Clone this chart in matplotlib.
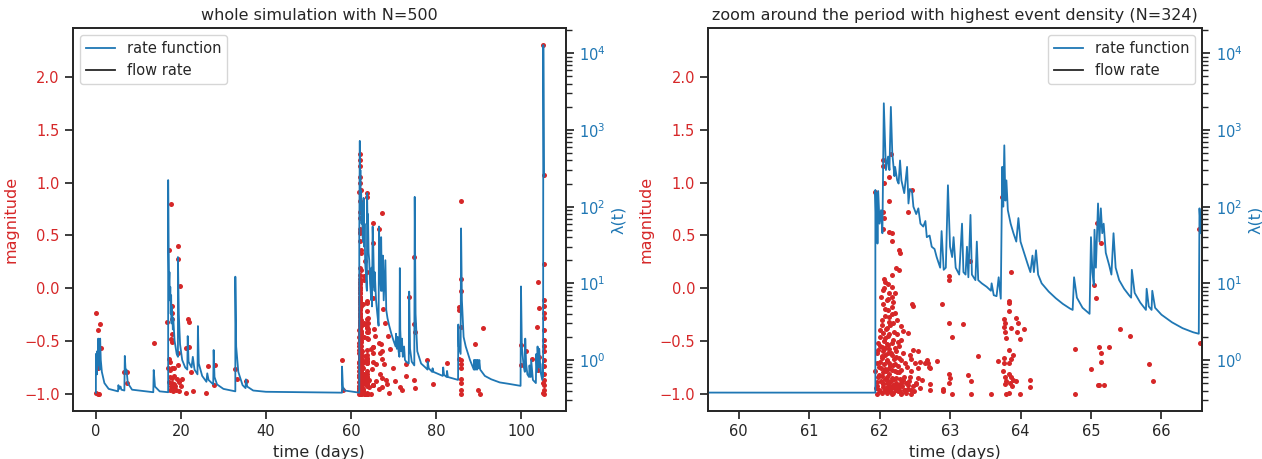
import numpy as np
import matplotlib
matplotlib.use("Agg")
import matplotlib.pyplot as plt

RED = "#d62728"
BLUE = "#1f77b4"
INK = "#262626"

# events as (time in days, magnitude)
early_events = [
    (0.0, -0.24), (0.45, -0.40), (0.95, -0.34), (0.0, -0.99), (0.6, -1.0), (0.8, -1.0),
    (0.5, -0.76), (1.1, -0.57), (6.7, -0.80), (7.2, -0.80), (7.2, -0.90), (13.7, -0.52),
    (17.2, 0.36), (17.6, 0.80), (19.3, 0.40), (19.3, 0.28), (19.7, 0.02), (17.8, -0.17),
    (17.8, -0.24), (18.0, -0.29), (17.7, -0.48), (18.0, -0.51), (17.9, -0.44), (17.1, -0.67),
    (17.4, -0.70), (17.0, -0.76), (17.4, -0.78), (17.8, -0.76), (18.3, -0.76), (19.2, -0.62),
    (19.4, -0.73), (17.5, -0.84), (18.0, -0.85), (18.4, -0.83), (17.3, -0.89), (17.8, -0.90),
    (18.4, -0.91), (17.7, -0.93), (18.1, -0.94), (18.6, -0.93), (17.5, -0.97), (18.2, -0.98),
    (18.8, -0.97), (19.0, -0.86), (19.6, -0.89), (20.0, -0.93), (20.2, -0.86), (19.5, -0.98),
    (16.8, -0.32), (21.2, -0.57), (21.8, -0.56), (21.6, -0.29), (21.8, -0.32), (21.2, -0.99),
    (22.8, -0.98), (22.3, -0.80), (25.8, -0.99), (26.3, -0.74), (28.0, -0.73), (27.8, -0.92),
    (32.8, -0.77), (33.2, -0.86), (35.3, -0.88), (58.0, -0.68), (58.1, -0.97),
]

burst_events = [
    (61.94, 0.91), (62.05, 1.21), (62.05, 1.16), (62.16, 1.27), (62.14, 1.05), (62.06, 1.00),
    (62.14, 0.83), (62.05, 0.72), (62.06, 0.66), (62.05, 0.56), (62.14, 0.53), (62.17, 0.52),
    (62.17, 0.45), (62.28, 0.36), (62.29, 0.33), (62.24, 0.19), (62.28, 0.17), (62.06, 0.09),
    (62.08, 0.06), (62.17, 0.12), (62.46, 0.93), (62.41, 0.72),
    (62.46, -0.15), (62.47, -0.17), (62.12, 0.04), (62.17, 0.01), (62.05, -0.02), (62.13, -0.05),
    (62.17, -0.08), (62.10, -0.11), (62.05, -0.15), (62.19, -0.13), (62.17, -0.18), (62.12, -0.21),
    (62.08, -0.26), (62.14, -0.27), (62.22, -0.24), (62.13, -0.32), (62.19, -0.33), (62.03, -0.35),
    (62.31, -0.36), (62.33, -0.41), (62.41, -0.43), (62.10, -0.38), (62.05, -0.43), (62.14, -0.44),
    (62.25, -0.44), (62.00, -0.46), (62.08, -0.47), (62.19, -0.49), (62.26, -0.51), (62.31, -0.49),
    (61.98, -0.52), (62.12, -0.54), (62.03, -0.56), (62.08, -0.57), (62.22, -0.57), (62.28, -0.55),
    (62.48, -0.59), (62.43, -0.63), (62.45, -0.67), (62.55, -0.60), (62.67, -0.68), (62.69, -0.71),
    (62.81, -0.69), (61.98, -0.59), (62.05, -0.60), (62.12, -0.62), (62.17, -0.63), (62.24, -0.65),
    (62.31, -0.68), (62.33, -0.62), (62.03, -0.66), (62.10, -0.68), (61.96, -0.71), (62.14, -0.71),
    (62.19, -0.73), (62.26, -0.74), (62.36, -0.71), (62.50, -0.71), (62.55, -0.76), (62.72, -0.76),
    (61.99, -0.75), (62.08, -0.77), (62.12, -0.77), (61.94, -0.79), (62.05, -0.80), (62.22, -0.79),
    (62.28, -0.80), (62.45, -0.79), (62.43, -0.84), (61.98, -0.84), (62.10, -0.84), (62.17, -0.85),
    (62.24, -0.85), (62.33, -0.87), (62.55, -0.85), (62.60, -0.87), (61.96, -0.89), (62.03, -0.89),
    (62.10, -0.90), (62.14, -0.90), (62.19, -0.92), (62.26, -0.92), (62.31, -0.90), (62.38, -0.90),
    (62.41, -0.92), (62.05, -0.94), (62.12, -0.94), (62.22, -0.94), (61.99, -0.97), (62.08, -0.97),
    (62.15, -0.97), (62.24, -0.97), (62.28, -0.97), (62.36, -0.97), (62.45, -0.97), (62.57, -0.95),
    (61.96, -1.00), (62.17, -1.00), (62.31, -1.00), (62.72, -0.97), (62.90, -0.96), (62.58, -0.70),
    (62.65, -0.71), (62.70, -0.75), (62.52, -0.91), (62.72, -0.91), (61.95, -0.95),
    (61.96, -0.62), (61.97, -0.93), (61.99, -0.82), (62.00, -0.70), (62.00, -0.98), (62.01, -0.55),
    (62.02, -0.88), (62.02, -0.76), (62.03, -0.99), (62.04, -0.64), (62.04, -0.83), (62.05, -0.91),
    (62.06, -0.50), (62.06, -0.72), (62.07, -0.97), (62.07, -0.86), (62.08, -0.63), (62.09, -0.79),
    (62.09, -0.95), (62.10, -0.53), (62.10, -0.99), (62.11, -0.87), (62.11, -0.69), (62.12, -0.45),
    (62.13, -0.93), (62.13, -0.81), (62.14, -0.58), (62.15, -0.98), (62.15, -0.74), (62.16, -0.88),
    (62.16, -0.62), (62.17, -0.95), (62.18, -0.78), (62.18, -0.52), (62.19, -0.99), (62.20, -0.86),
    (62.20, -0.67), (62.21, -0.93), (62.22, -0.72), (62.23, -0.97), (62.23, -0.60), (62.24, -0.90),
    (62.25, -0.80), (62.26, -0.98), (62.27, -0.66), (62.28, -0.94), (62.29, -0.86), (62.30, -0.99),
    (62.31, -0.78), (62.32, -0.93), (62.34, -0.97), (62.35, -0.84), (62.37, -0.99), (62.39, -0.75),
    (62.40, -0.96), (62.42, -0.88), (62.44, -1.00), (62.47, -0.93), (62.49, -0.98), (62.52, -0.90),
    (62.01, -0.40), (62.04, -0.30), (62.07, -0.20), (62.09, -0.39), (62.12, -0.10), (62.15, -0.35),
    (62.18, -0.25), (62.20, -0.42), (62.22, -0.05), (62.25, -0.30), (62.02, -0.08), (62.06, 0.00),
]

zoom_events = [
    (62.88, -0.15), (62.98, 0.11), (62.98, 0.08), (62.98, -0.33), (63.18, -0.34), (63.03, -0.46),
    (63.39, -0.64), (62.98, -0.81), (63.00, -0.85), (62.98, -0.90), (62.90, -0.98), (63.03, -1.00),
    (63.25, -0.82), (63.30, -0.88), (63.30, -1.00), (63.58, -1.00), (63.86, 0.15), (63.83, -0.12),
    (63.84, -0.14), (63.84, -0.22), (63.76, -0.29), (63.78, -0.33), (63.77, -0.37), (63.86, -0.38),
    (63.94, -0.28), (63.97, -0.33), (64.05, -0.39), (63.78, -0.42), (63.79, -0.47), (63.95, -0.42),
    (63.99, -0.48), (63.83, -0.59), (63.89, -0.63), (63.87, -0.67), (63.68, -0.69), (63.77, -0.66),
    (63.77, -0.71), (63.84, -0.71), (63.75, -0.79), (63.78, -0.84), (63.83, -0.81), (63.87, -0.84),
    (63.80, -0.88), (63.85, -0.90), (63.78, -0.91), (63.90, -0.87), (63.94, -0.88), (63.88, -0.93),
    (63.80, -1.00), (63.83, -0.99), (63.99, -1.00), (64.14, -0.87), (64.13, -0.94), (63.74, 0.86),
    (63.77, 0.90), (63.29, 0.26), (65.04, 0.03), (65.07, -0.09), (65.08, 0.62), (65.14, 0.43),
    (65.41, -0.39), (65.56, -0.45), (64.78, -0.58), (65.12, -0.56), (65.25, -0.56), (65.14, -0.62),
    (65.14, -0.70), (65.00, -0.77), (65.82, -0.72), (65.88, -0.88), (65.10, -0.92), (65.12, -0.92),
    (65.18, -0.92), (64.78, -1.00), (66.55, -0.52), (66.54, 0.56),
]

late_events = [
    (67.2, 0.71), (67.0, -0.53), (67.3, -0.60), (66.8, -0.62), (67.4, -0.67), (67.8, -0.72),
    (66.9, -0.81), (67.3, -0.85), (68.2, -0.87), (67.4, -0.94), (68.4, -0.91), (66.7, -0.96),
    (67.6, -0.20), (68.0, -0.33), (68.6, -0.45), (69.2, -0.58), (69.8, -0.76), (70.3, -0.88),
    (69.0, -0.99), (71.0, -0.48), (71.4, -0.53), (71.6, -0.94), (72.0, -0.97), (72.9, -0.72),
    (73.0, -0.83), (73.7, -0.08), (74.9, 0.29), (74.9, -0.34), (75.0, -0.42), (74.9, -0.87),
    (75.1, -0.95), (78.0, -0.68), (79.2, -0.91), (82.6, -0.71), (85.9, 0.83), (85.9, 0.09),
    (85.9, -0.03), (85.9, -0.37), (86.0, -0.68), (86.0, -0.72), (86.0, -0.76), (85.9, -0.86),
    (86.0, -0.90), (85.9, -0.97), (85.9, -1.00), (85.3, -0.18), (85.3, -0.21), (85.3, -0.67),
    (89.2, -0.53), (91.0, -0.38), (89.8, -0.97), (90.4, -1.00), (100.0, -0.54), (100.0, -0.73),
    (101.2, -0.60), (102.6, -0.67), (103.8, -0.37), (104.0, 0.06), (104.2, -0.19), (104.3, -0.65),
    (104.0, -0.78), (105.2, 2.30), (105.3, 1.07), (105.3, 0.23), (105.3, -0.11), (105.3, -0.17),
    (105.3, -0.24), (105.3, -0.28), (105.3, -0.40), (105.3, -0.49), (105.3, -0.55), (105.3, -0.60),
    (105.3, -0.68), (105.3, -0.74), (105.3, -0.81), (105.3, -0.87), (105.3, -0.92), (105.3, -0.97),
    (105.3, -1.00), (105.1, -0.90), (105.2, -0.99),
]

# rate function lambda(t): whole run on a coarse grid, zoom window on a fine grid
rate_whole = [
    (0.0, 0.375), (0.0, 1.2), (0.1, 0.8), (0.25, 0.65), (0.3, 1.3), (0.45, 0.85), (0.55, 1.9),
    (0.7, 1.0), (0.9, 0.75), (1.0, 1.9), (1.15, 1.0), (1.4, 0.7), (2.0, 0.5), (3.0, 0.42),
    (5.2, 0.39), (5.3, 0.47), (5.5, 0.42), (5.8, 0.45), (6.0, 0.41), (6.7, 0.40), (6.8, 1.13),
    (7.0, 0.7), (7.2, 0.75), (7.5, 0.5), (8.5, 0.41), (13.5, 0.38), (13.6, 0.74), (13.9, 0.45),
    (15.0, 0.39), (17.0, 0.38), (17.0, 222), (17.1, 30), (17.2, 10), (17.3, 14), (17.4, 6),
    (17.5, 9), (17.6, 4), (17.7, 7), (17.8, 3), (17.9, 5), (18.1, 2.5), (18.2, 3.5), (18.5, 1.8),
    (19.0, 1.2), (19.3, 1.1), (19.3, 22), (19.5, 4), (19.8, 1.6), (20.3, 1.0), (21.0, 0.8),
    (21.5, 0.75), (21.6, 2.05), (21.8, 0.95), (22.5, 0.8), (22.8, 1.1), (23.2, 0.75), (23.9, 0.65),
    (24.0, 2.77), (24.2, 0.9), (25.0, 0.62), (26.0, 0.52), (26.2, 0.67), (26.5, 0.55), (27.6, 0.48),
    (27.7, 1.35), (27.9, 0.6), (28.5, 0.48), (30.0, 0.42), (32.8, 0.39), (32.8, 12.2), (33.0, 1.5),
    (33.5, 0.7), (34.5, 0.47), (35.2, 0.43), (35.3, 0.56), (35.6, 0.45), (37.0, 0.40), (40.0, 0.385),
    (57.9, 0.375), (57.9, 0.82), (58.1, 0.45), (58.5, 0.40), (61.95, 0.375), (61.96, 40),
    (62.0, 120), (62.08, 720), (62.15, 150), (62.22, 300), (62.3, 90), (62.4, 160), (62.5, 60),
    (62.62, 110), (62.75, 40), (62.9, 35), (62.98, 130), (63.1, 30), (63.2, 60), (63.35, 18),
    (63.5, 14), (63.65, 9), (63.75, 8), (63.8, 150), (63.9, 60), (64.0, 80), (64.15, 25),
    (64.3, 20), (64.5, 10), (64.8, 6), (64.85, 16), (64.95, 5), (65.1, 55), (65.25, 30),
    (65.4, 12), (65.55, 8), (65.6, 14), (65.9, 6), (66.2, 4), (66.5, 2.8), (66.6, 55), (66.8, 15),
    (67.05, 8), (67.1, 40), (67.3, 8), (67.5, 23), (67.7, 6), (68.1, 20), (68.3, 4.5), (68.6, 3.5),
    (69.0, 2.8), (69.5, 2.2), (70.0, 1.8), (70.5, 1.5), (70.6, 2.2), (70.8, 1.4), (71.0, 2.0),
    (71.2, 1.3), (71.4, 1.1), (71.5, 15.8), (71.6, 2.5), (71.8, 1.3), (72.0, 1.9), (72.2, 1.1),
    (72.5, 1.5), (72.7, 1.0), (73.0, 0.95), (73.6, 0.9), (73.7, 7.8), (73.9, 1.4), (74.3, 0.95),
    (74.9, 0.85), (75.0, 134), (75.2, 4), (75.6, 1.3), (76.5, 0.9), (77.5, 0.8), (78.0, 0.75),
    (78.05, 0.95), (78.3, 0.78), (79.1, 0.7), (79.2, 0.78), (79.4, 0.7), (81.6, 0.62), (81.7, 0.8),
    (81.9, 0.64), (82.5, 0.6), (82.6, 0.72), (82.8, 0.6), (85.2, 0.55), (85.25, 2.9), (85.35, 1.5),
    (85.8, 1.2), (85.9, 52), (86.1, 6), (86.5, 2.0), (87.0, 1.5), (88.0, 1.0), (88.9, 0.75),
    (88.95, 1.0), (89.1, 0.75), (89.25, 1.0), (89.4, 0.75), (89.55, 1.0), (89.7, 0.75),
    (89.85, 1.0), (90.0, 0.78), (90.2, 1.0), (90.4, 0.75), (91.5, 0.62), (93.0, 0.56),
    (95.0, 0.51), (97.0, 0.49), (99.9, 0.46), (100.0, 9.1), (100.2, 1.5), (100.6, 0.85),
    (100.9, 0.7), (101.0, 1.9), (101.2, 0.9), (101.5, 0.65), (101.9, 0.6), (102.0, 0.85),
    (102.3, 0.6), (102.4, 1.0), (102.8, 0.55), (103.5, 0.5), (103.6, 1.2), (103.8, 0.7),
    (103.9, 1.5), (104.1, 0.8), (104.3, 1.4), (104.6, 0.7), (105.0, 0.55), (105.1, 0.9),
    (105.2, 0.6), (105.25, 12800), (105.4, 250),
]

rate_zoom = [
    (59.0, 0.376), (61.94, 0.375), (61.94, 165), (61.95, 70), (61.96, 150), (61.97, 33),
    (61.98, 160), (62.00, 60), (62.02, 90), (62.04, 45), (62.06, 2230), (62.09, 300), (62.12, 450),
    (62.14, 300), (62.16, 2000), (62.18, 500), (62.21, 250), (62.22, 330), (62.25, 220),
    (62.27, 200), (62.29, 400), (62.31, 220), (62.35, 150), (62.39, 330), (62.41, 110),
    (62.43, 170), (62.46, 160), (62.48, 100), (62.52, 80), (62.55, 95), (62.58, 60), (62.62, 55),
    (62.65, 65), (62.67, 40), (62.71, 42), (62.74, 30), (62.78, 28), (62.81, 22), (62.86, 16),
    (62.88, 48), (62.91, 15), (62.94, 16), (62.97, 190), (63.00, 30), (63.03, 22), (63.05, 40),
    (63.08, 16), (63.13, 13), (63.17, 60), (63.19, 14), (63.22, 13), (63.24, 30), (63.26, 12),
    (63.29, 78), (63.31, 13), (63.36, 11), (63.38, 35), (63.40, 11), (63.45, 10), (63.52, 9),
    (63.58, 8), (63.59, 10), (63.62, 7), (63.66, 6.8), (63.69, 12), (63.72, 6.3), (63.74, 330),
    (63.755, 100), (63.77, 630), (63.785, 120), (63.80, 220), (63.82, 90), (63.86, 60),
    (63.90, 45), (63.94, 35), (63.97, 71), (64.00, 35), (64.05, 25), (64.10, 18), (64.14, 14),
    (64.17, 23), (64.19, 14), (64.22, 27), (64.25, 13), (64.30, 10), (64.40, 7.8), (64.50, 6.4),
    (64.60, 5.4), (64.70, 4.7), (64.74, 4.5), (64.76, 12), (64.80, 6.5), (64.88, 4.8),
    (64.98, 4.0), (65.00, 40), (65.02, 14), (65.04, 9.5), (65.05, 50), (65.07, 16), (65.10, 110),
    (65.12, 35), (65.14, 95), (65.16, 45), (65.18, 60), (65.21, 25), (65.26, 17), (65.29, 13),
    (65.32, 45), (65.35, 16), (65.40, 11), (65.47, 8.5), (65.54, 7.0), (65.57, 6.5), (65.58, 15),
    (65.62, 7.5), (65.70, 5.6), (65.78, 4.5), (65.79, 8.5), (65.82, 5.0), (65.86, 4.5),
    (65.87, 8.0), (65.91, 4.8), (66.00, 3.9), (66.15, 3.1), (66.30, 2.6), (66.45, 2.3),
    (66.53, 2.2), (66.54, 95), (66.56, 45), (66.58, 80), (66.62, 40),
]

titles = ["whole simulation with N=500",
          "zoom around the period with highest event density (N=324)"]

plt.rcParams.update({
    "font.family": "DejaVu Sans",
    "font.size": 10.5,
    "axes.titlesize": 11.5,
    "axes.labelsize": 11.5,
    "xtick.labelsize": 10.5,
    "ytick.labelsize": 10.5,
    "legend.fontsize": 10.5,
    "text.color": INK,
    "axes.labelcolor": INK,
    "axes.edgecolor": INK,
    "axes.linewidth": 1.25,
    "xtick.color": INK,
    "ytick.color": INK,
    "xtick.major.size": 6,
    "ytick.major.size": 6,
    "xtick.major.width": 1.25,
    "ytick.major.width": 1.25,
    "ytick.minor.size": 4,
    "ytick.minor.width": 1,
})

events = np.array(early_events + burst_events + zoom_events + late_events)


def draw_panel(ax, rate, title, legend_loc, xlim):
    ax.scatter(events[:, 0], events[:, 1], s=13, color=RED, linewidths=0)
    ax.set_ylim(-1.165, 2.465)
    ax.set_xlim(*xlim)
    ax.set_xlabel("time (days)")
    ax.set_ylabel("magnitude", color=RED)
    ax.tick_params(axis="y", labelcolor=RED)
    ax.set_title(title)

    r = np.array(rate)
    ax2 = ax.twinx()
    ax2.plot(r[:, 0], r[:, 1], color=BLUE, lw=1.3, label="rate function")
    ax2.plot([], [], color=INK, lw=1.3, label="flow rate")
    ax2.set_yscale("log")
    ax2.set_ylim(10 ** -0.665, 10 ** 4.33)
    ax2.set_ylabel("λ(t)", color=BLUE)
    ax2.tick_params(axis="y", which="both", labelcolor=BLUE)
    ax2.legend(loc=legend_loc)
    return ax2


fig = plt.figure(figsize=(12.62, 4.59), dpi=100)
ax_l = fig.add_axes([0.0578, 0.1046, 0.3904, 0.8344])
ax_r = fig.add_axes([0.5613, 0.1046, 0.3914, 0.8344])

draw_panel(ax_l, rate_whole, titles[0], "upper left", (-5.4, 110.5))
draw_panel(ax_r, rate_zoom, titles[1], "upper right", (59.57, 66.58))

fig.savefig("out.png", dpi=100)
